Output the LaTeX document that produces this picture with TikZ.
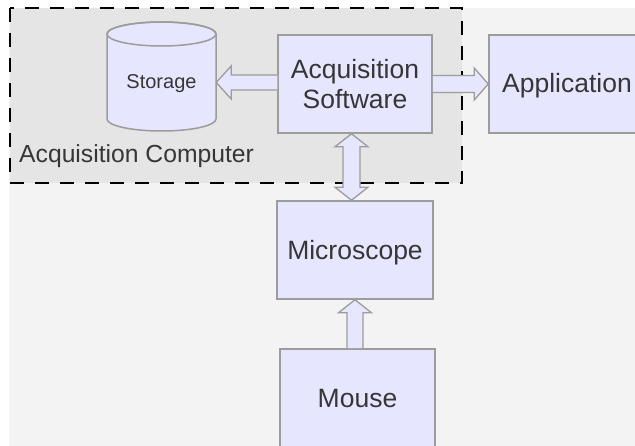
\documentclass[tikz,border=0pt]{standalone}
\usepackage{fontspec}
\setmainfont{Liberation Sans}
\usetikzlibrary{calc}
\definecolor{boxfill}{HTML}{E6E6FF}
\definecolor{boxline}{HTML}{9C9C9C}
\definecolor{pagebg}{HTML}{F3F3F3}
\definecolor{groupbg}{HTML}{E5E5E5}
\definecolor{ink}{HTML}{363636}
\tikzset{
  block/.style={draw=boxline, fill=boxfill, line width=1.5pt, text=ink,
    minimum width=156pt, minimum height=98pt, inner sep=0pt, align=center,
    font=\fontsize{26.5}{30}\selectfont},
  oneline/.style={text height=21pt, text depth=1pt},
  hollow/.style={draw=boxline, fill=boxfill, line width=1.3pt, line join=miter},
  grouplabel/.style={text=ink, inner sep=0pt, anchor=base west,
    font=\fontsize{24.7}{28}\selectfont},
}
\begin{document}
\begin{tikzpicture}[x=1pt, y=-1pt]
  \useasboundingbox (0,0) rectangle (635,446);
  % page background
  \fill[pagebg] (9,8) rectangle (640,450);
  % acquisition computer group
  \draw[fill=groupbg, line width=1.8pt, dash pattern=on 14pt off 11pt]
    (10,8) rectangle (462,183);
  \node[grouplabel] (grp) at (19,163) {Acquisition Computer};

  % storage cylinder
  \filldraw[draw=boxline, fill=boxfill, line width=1.5pt]
    (107,34) -- (107,119)
    arc[start angle=180, end angle=0, x radius=54.5, y radius=12]
    -- (216,34)
    arc[start angle=0, end angle=-180, x radius=54.5, y radius=12] -- cycle;
  \draw[draw=boxline, line width=1.5pt] (161.5,34) ellipse[x radius=54.5, y radius=12];
  \node[text=ink, inner sep=0pt, minimum width=109pt, minimum height=60pt,
        text height=14pt, text depth=2pt,
        font=\fontsize{20}{24}\selectfont] (st) at (161.5,83) {Storage};

  % blocks
  \node[block, minimum width=154pt] (sw) at (355,84) {Acquisition\\Software};
  \node[block, oneline, minimum width=170pt, text depth=3pt] (app) at (574,84)
    {\hspace*{-14pt}Application};
  \node[block, oneline] (mic) at (355,250) {Microscope};
  \node[block, minimum width=155pt, minimum height=120pt,
        text height=10pt, text depth=12pt] (mouse) at (357.5,409) {Mouse};

  % software -> storage
  \draw[hollow]
    ($(sw.west)+(0,-9)$) -- ($(st.east |- sw.west)+(15,-9)$)
    -- ($(st.east |- sw.west)+(15,-18)$) -- ($(st.east |- sw.west)+(0,-1.5)$)
    -- ($(st.east |- sw.west)+(15,15)$) -- ($(st.east |- sw.west)+(15,6)$)
    -- ($(sw.west)+(0,6)$);

  % software -> application
  \draw[hollow]
    ($(sw.east)+(0,-8.5)$) -- ($(app.west |- sw.east)+(-14,-8.5)$)
    -- ($(app.west |- sw.east)+(-14,-16)$) -- (app.west |- sw.east)
    -- ($(app.west |- sw.east)+(-14,16)$) -- ($(app.west |- sw.east)+(-14,8.5)$)
    -- ($(sw.east)+(0,8.5)$);

  % software <-> microscope
  \draw[hollow]
    ($(sw.south)+(-3.5,0)$) -- ($(sw.south)+(13,13)$) -- ($(sw.south)+(5,13)$)
    -- ($(mic.north)+(5,-13)$) -- ($(mic.north)+(13,-13)$)
    -- ($(mic.north)+(-3.5,0)$) -- ($(mic.north)+(-20,-13)$)
    -- ($(mic.north)+(-12,-13)$) -- ($(sw.south)+(-12,13)$)
    -- ($(sw.south)+(-20,13)$) -- cycle;

  % mouse -> microscope
  \draw[hollow]
    ($(mouse.north -| mic.south)+(8,0)$) -- ($(mic.south)+(8,13)$)
    -- ($(mic.south)+(16.5,13)$) -- (mic.south)
    -- ($(mic.south)+(-16.5,13)$) -- ($(mic.south)+(-8,13)$)
    -- ($(mouse.north -| mic.south)+(-8,0)$);
\end{tikzpicture}
\end{document}
